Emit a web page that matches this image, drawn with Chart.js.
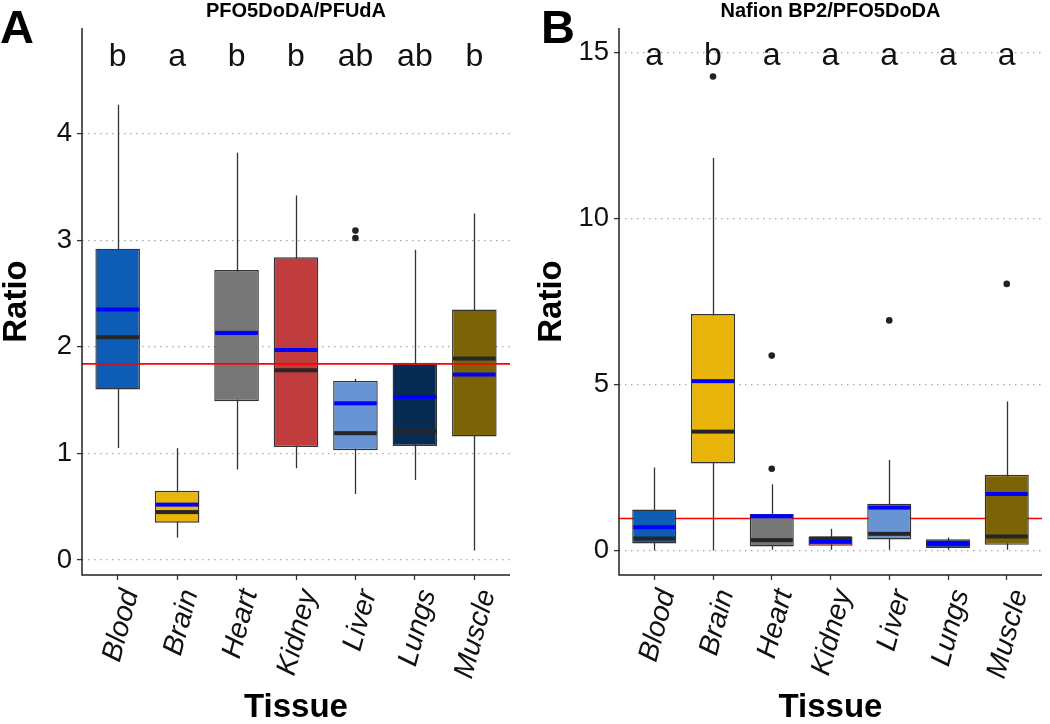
<!DOCTYPE html>
<html>
<head>
<meta charset="utf-8">
<script src="https://cdn.jsdelivr.net/npm/chart.js@4.4.1/dist/chart.umd.min.js"></script>
<style>
  html, body { margin: 0; padding: 0; background: #fff; }
  #wrap { position: relative; width: 1050px; height: 724px; }
  canvas { position: absolute; top: 0; }
</style>
</head>
<body>
<div id="wrap">
  <canvas id="chartA" width="525" height="724" style="left:0"></canvas>
  <canvas id="chartB" width="525" height="724" style="left:525px"></canvas>
</div>
<script>
const tissues = ["Blood", "Brain", "Heart", "Kidney", "Liver", "Lungs", "Muscle"];
const boxColors = ["#0D5CB6", "#EAB50A", "#767676", "#C13C3C", "#6894D4", "#082B54", "#7B6307"];

// panel A - PFO5DoDA/PFUdA
const aLow    = [1.05, 0.21, 0.85, 0.86, 0.62, 0.75, 0.09];
const aQ1     = [1.60, 0.35, 1.49, 1.06, 1.03, 1.07, 1.16];
const aMedian = [2.09, 0.45, 2.13, 1.78, 1.19, 1.21, 1.89];
const aMean   = [2.35, 0.52, 2.13, 1.97, 1.47, 1.53, 1.74];
const aQ3     = [2.92, 0.65, 2.72, 2.84, 1.68, 1.85, 2.35];
const aHigh   = [4.27, 1.05, 3.82, 3.42, 1.70, 2.91, 3.25];
const aOutliers = [[], [], [], [], [3.09, 3.02], [], []];
const aLetters = ["b", "a", "b", "b", "ab", "ab", "b"];
const aRef = 1.84;
const aTicks = [0, 1, 2, 3, 4];

// panel B - Nafion BP2/PFO5DoDA
const bLow    = [0.00, 0.00, 0.02, 0.02, 0.02, 0.02, 0.02];
const bQ1     = [0.21, 2.62, 0.12, 0.14, 0.33, 0.07, 0.17];
const bMedian = [0.36, 3.58, 0.31, 0.36, 0.50, 0.20, 0.42];
const bMean   = [0.70, 5.10, 1.03, 0.26, 1.29, 0.21, 1.70];
const bQ3     = [1.23, 7.12, 1.10, 0.42, 1.41, 0.34, 2.28];
const bHigh   = [2.50, 11.82, 1.99, 0.65, 2.73, 0.39, 4.49];
const bOutliers = [[], [14.28], [5.87, 2.46], [], [6.93], [], [8.03]];
const bLetters = ["a", "b", "a", "a", "a", "a", "a"];
const bRef = 0.96;
const bTicks = [0, 5, 10, 15];

const FONT = "'Liberation Sans', Arial, sans-serif";

// whiskers, median/mean bars, reference line, letters, titles
const boxExtras = {
  id: "boxExtras",
  beforeDatasetsDraw(chart, args, o) {
    const { ctx, chartArea: ca } = chart;
    const x = chart.scales.x, y = chart.scales.y;
    ctx.save();
    ctx.strokeStyle = "#333";
    ctx.lineWidth = 1.3;
    o.low.forEach((lo, i) => {
      const px = Math.round(x.getPixelForValue(i + 1)) + 0.5;
      ctx.beginPath();
      ctx.moveTo(px, y.getPixelForValue(lo));
      ctx.lineTo(px, y.getPixelForValue(o.high[i]));
      ctx.stroke();
    });
    if (!o.refOnTop) drawRef(ctx, ca, y, o.ref);
    ctx.restore();
  },
  afterDatasetsDraw(chart, args, o) {
    const { ctx, chartArea: ca } = chart;
    const x = chart.scales.x, y = chart.scales.y;
    const bars = chart.getDatasetMeta(0).data;
    ctx.save();
    bars.forEach((bar, i) => {
      const l = bar.x - bar.width / 2 + 1, r = bar.x + bar.width / 2 - 1;
      ctx.fillStyle = "#262626";
      let py = y.getPixelForValue(o.median[i]);
      ctx.fillRect(l, py - 2, r - l, 4);
      ctx.fillStyle = "#0000FF";
      py = y.getPixelForValue(o.mean[i]);
      ctx.fillRect(l, py - 2, r - l, 4);
    });
    if (o.refOnTop) drawRef(ctx, ca, y, o.ref);

    // axis lines
    ctx.strokeStyle = "#222";
    ctx.lineWidth = 1.5;
    ctx.beginPath();
    ctx.moveTo(ca.left, ca.top);
    ctx.lineTo(ca.left, ca.bottom);
    ctx.lineTo(ca.right, ca.bottom);
    ctx.stroke();

    // group letters
    ctx.fillStyle = "#111";
    ctx.font = "32px " + FONT;
    ctx.textAlign = "center";
    ctx.textBaseline = "alphabetic";
    o.letters.forEach((t, i) => {
      ctx.fillText(t, x.getPixelForValue(i + 1), y.getPixelForValue(o.letterY));
    });

    // panel title and tag
    ctx.font = "bold 20px " + FONT;
    ctx.fillStyle = "#000";
    ctx.fillText(o.title, (ca.left + ca.right) / 2, 17);
    ctx.font = "bold 47px " + FONT;
    ctx.textAlign = "left";
    ctx.fillText(o.tag, o.tagX, 43);
    ctx.restore();
  }
};

function drawRef(ctx, ca, y, v) {
  const py = y.getPixelForValue(v);
  ctx.save();
  ctx.strokeStyle = "#FF0000";
  ctx.lineWidth = 1.6;
  ctx.beginPath();
  ctx.moveTo(ca.left, py);
  ctx.lineTo(ca.right, py);
  ctx.stroke();
  ctx.restore();
}

function makePanel(id, p) {
  const boxData = tissues.map((t, i) => ({ x: i + 1, y: [p.q1[i], p.q3[i]] }));
  const outPts = [];
  p.outliers.forEach((arr, i) => arr.forEach(v => outPts.push({ x: i + 1, y: v })));

  return new Chart(document.getElementById(id), {
    type: "bar",
    data: {
      datasets: [
        {
          type: "bar",
          data: boxData,
          backgroundColor: boxColors,
          borderColor: "#333",
          borderWidth: 1.4,
          borderSkipped: false,
          barPercentage: 0.75,
          categoryPercentage: 1
        },
        {
          type: "scatter",
          data: outPts,
          pointRadius: 3.3,
          backgroundColor: "#222",
          borderWidth: 0
        }
      ]
    },
    options: {
      responsive: false,
      animation: false,
      events: [],
      layout: { padding: p.pad },
      plugins: {
        legend: { display: false },
        tooltip: { enabled: false },
        boxExtras: {
          low: p.low, high: p.high, median: p.median, mean: p.mean,
          ref: p.ref, refOnTop: p.refOnTop, letters: p.letters, letterY: p.letterY,
          title: p.title, tag: p.tag, tagX: p.tagX
        }
      },
      scales: {
        x: {
          type: "linear",
          min: 0.4,
          max: 7.6,
          offset: false,
          afterBuildTicks: s => { s.ticks = tissues.map((t, i) => ({ value: i + 1 })); },
          afterFit: s => { s.height = 149; s.paddingLeft = 0; s.paddingRight = 0; },
          grid: { offset: false, drawOnChartArea: false, drawTicks: true, tickLength: 5, tickColor: "#333", tickWidth: 1.3 },
          border: { display: false },
          ticks: {
            autoSkip: false,
            minRotation: 75,
            maxRotation: 75,
            padding: 6,
            labelOffset: 13,
            color: "#111",
            font: { family: FONT, size: 28.5, style: "italic" },
            callback: v => tissues[Math.round(v) - 1]
          },
          title: {
            display: true,
            text: "Tissue",
            color: "#000",
            padding: { top: 0, bottom: 0 },
            font: { family: FONT, size: 33, weight: "bold", lineHeight: 1 }
          }
        },
        y: {
          type: "linear",
          min: p.yMin,
          max: p.yMax,
          afterBuildTicks: s => { s.ticks = p.ticks.map(v => ({ value: v })); },
          afterFit: s => { s.width = p.yWidth; s.paddingTop = 0; s.paddingBottom = 0; },
          grid: { color: "#A8A8A8", lineWidth: 1.2, tickLength: 5, tickColor: "#333", tickWidth: 1.3 },
          border: { display: false, dash: [1.5, 4.5] },
          ticks: {
            padding: 5,
            color: "#111",
            font: { family: FONT, size: 27.5 }
          },
          title: {
            display: true,
            text: "Ratio",
            color: "#000",
            padding: { top: 0, bottom: 0 },
            font: { family: FONT, size: 33, weight: "bold", lineHeight: 1 }
          }
        }
      }
    },
    plugins: [boxExtras]
  });
}

makePanel("chartA", {
  low: aLow, q1: aQ1, median: aMedian, mean: aMean, q3: aQ3, high: aHigh,
  outliers: aOutliers, letters: aLetters, letterY: 4.63, ref: aRef, refOnTop: true,
  ticks: aTicks, yMin: -0.14, yMax: 4.99,
  title: "PFO5DoDA/PFUdA", tag: "A", tagX: 0,
  pad: { left: 0, top: 28, right: 15, bottom: 0 }, yWidth: 82
});

makePanel("chartB", {
  low: bLow, q1: bQ1, median: bMedian, mean: bMean, q3: bQ3, high: bHigh,
  outliers: bOutliers, letters: bLetters, letterY: 14.63, ref: bRef, refOnTop: false,
  ticks: bTicks, yMin: -0.74, yMax: 15.74,
  title: "Nafion BP2/PFO5DoDA", tag: "B", tagX: 16,
  pad: { left: 10, top: 28, right: 8, bottom: 0 }, yWidth: 84
});
</script>
</body>
</html>
